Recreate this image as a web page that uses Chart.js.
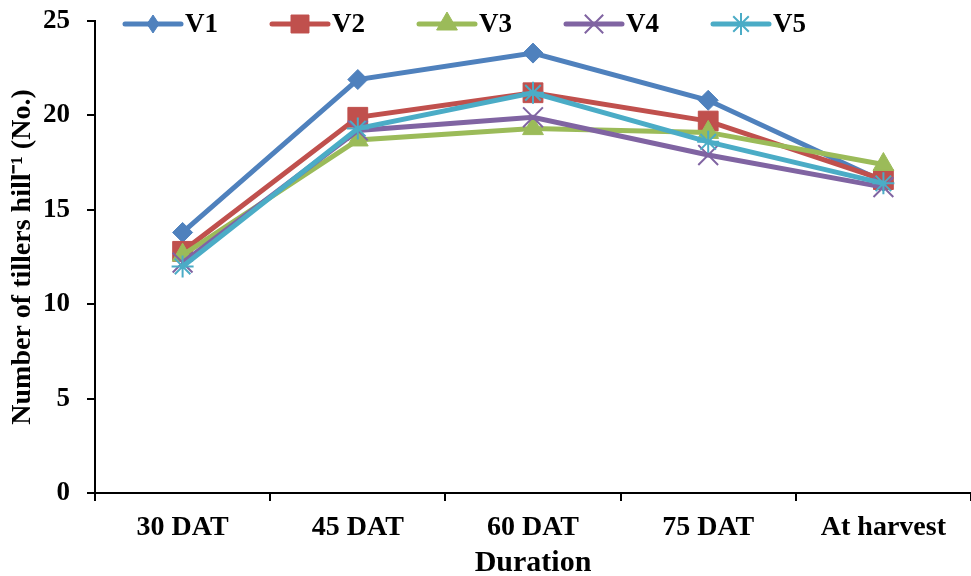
<!DOCTYPE html>
<html>
<head>
<meta charset="utf-8">
<script src="https://cdn.jsdelivr.net/npm/chart.js@4.4.1/dist/chart.umd.min.js"></script>
<style>
  html, body { margin: 0; padding: 0; background: #ffffff; overflow: hidden; }
  #c { display: block; }
</style>
</head>
<body>
<canvas id="c" width="971" height="576"></canvas>
<script>
// Tiller counts per hill for five varieties over the growing period
const categories = ['30 DAT', '45 DAT', '60 DAT', '75 DAT', 'At harvest'];
const v1 = [13.8, 21.9, 23.3, 20.8, 16.5];
const v2 = [12.8, 19.9, 21.2, 19.7, 16.6];
const v3 = [12.6, 18.7, 19.3, 19.1, 17.4];
const v4 = [12.2, 19.2, 19.9, 17.9, 16.2];
const v5 = [12.0, 19.3, 21.2, 18.6, 16.4];
const seriesNames = ['V1', 'V2', 'V3', 'V4', 'V5'];
const yTickValues = [0, 5, 10, 15, 20, 25];

const FONT = "'Liberation Serif', 'Times New Roman', serif";

// Later series are painted over earlier ones
function series(label, data, color, style, radius, bw, order) {
  return {
    label, data, order,
    borderColor: color,
    backgroundColor: color,
    pointBackgroundColor: color,
    pointBorderColor: color,
    pointStyle: style,
    pointRadius: radius,
    pointHoverRadius: radius,
    pointBorderWidth: bw,
    borderWidth: 5,
    tension: 0,
    fill: false
  };
}

const datasets = [
  series(seriesNames[0], v1, '#4F81BD', 'rectRot', 10, 1, 5),
  series(seriesNames[1], v2, '#C0504D', 'rect', 14, 1, 4),
  series(seriesNames[2], v3, '#9BBB59', 'triangle', 12, 1, 3),
  series(seriesNames[3], v4, '#8064A2', 'crossRot', 14, 2, 2),
  series(seriesNames[4], v5, '#4BACC6', 'star', 11, 2, 1)
];

// Legend drawn across the top of the plot: a short line with the marker, then the name
const legendMarks = [
  { radius: 9, width: 12 },
  { radius: 12.7 },
  { radius: 12 },
  { radius: 13 },
  { radius: 11 }
];
const topLegend = {
  id: 'topLegend',
  afterDraw(chart) {
    const ctx = chart.ctx;
    const y = 24;
    ctx.save();
    chart.data.datasets.forEach((ds, i) => {
      const x0 = 125 + i * 147;
      const x1 = x0 + 56;
      ctx.strokeStyle = ds.borderColor;
      ctx.fillStyle = ds.borderColor;
      ctx.lineWidth = 5;
      ctx.lineCap = 'round';
      ctx.beginPath();
      ctx.moveTo(x0, y);
      ctx.lineTo(x1, y);
      ctx.stroke();
      ctx.lineCap = 'butt';
      ctx.lineWidth = ds.pointBorderWidth;
      const m = legendMarks[i];
      Chart.helpers.drawPointLegend(ctx, {
        pointStyle: ds.pointStyle,
        radius: m.radius,
        rotation: 0,
        borderWidth: ds.pointBorderWidth
      }, (x0 + x1) / 2, y, m.width);
      ctx.fillStyle = '#000';
      ctx.font = 'bold 27px ' + FONT;
      ctx.textBaseline = 'middle';
      ctx.textAlign = 'left';
      ctx.fillText(ds.label, x1 + 4, y + 1);
    });
    ctx.restore();
  }
};

// Keep the plot edges where the layout padding puts them
function noEdgePadding(s) {
  s.paddingTop = 0;
  s.paddingBottom = 0;
  s.paddingLeft = 0;
  s.paddingRight = 0;
}

new Chart(document.getElementById('c'), {
  type: 'line',
  data: { labels: categories, datasets },
  plugins: [topLegend],
  options: {
    responsive: false,
    maintainAspectRatio: false,
    animation: false,
    devicePixelRatio: 1,
    layout: { autoPadding: false, padding: { top: 21, right: -4, bottom: 0, left: 0 } },
    plugins: {
      legend: { display: false },
      tooltip: { enabled: false }
    },
    scales: {
      x: {
        type: 'category',
        offset: true,
        grid: {
          offset: true,
          drawOnChartArea: false,
          drawTicks: true,
          tickLength: 8,
          color: '#000',
          lineWidth: 2
        },
        border: { display: true, color: '#000', width: 2 },
        ticks: {
          color: '#000',
          font: { family: FONT, size: 28, weight: 'bold' },
          padding: 10,
          maxRotation: 0,
          autoSkip: false
        },
        title: {
          display: true,
          text: 'Duration',
          color: '#000',
          font: { family: FONT, size: 30, weight: 'bold' },
          padding: { top: 0, bottom: -5 }
        },
        afterFit(s) { s.height = 83; noEdgePadding(s); }
      },
      y: {
        min: 0,
        max: 25,
        afterBuildTicks(s) { s.ticks = yTickValues.map(v => ({ value: v })); },
        grid: {
          drawOnChartArea: false,
          drawTicks: true,
          tickLength: 8,
          color: '#000',
          lineWidth: 2
        },
        border: { display: true, color: '#000', width: 2 },
        ticks: {
          color: '#000',
          font: { family: FONT, size: 27, weight: 'bold' },
          padding: 17
        },
        title: {
          display: true,
          text: 'Number of tillers hill⁻¹ (No.)',
          color: '#000',
          font: { family: FONT, size: 28, weight: 'bold' },
          padding: { top: 6, bottom: 0 }
        },
        afterFit(s) { s.width = 95; noEdgePadding(s); }
      }
    }
  }
});
</script>
</body>
</html>
